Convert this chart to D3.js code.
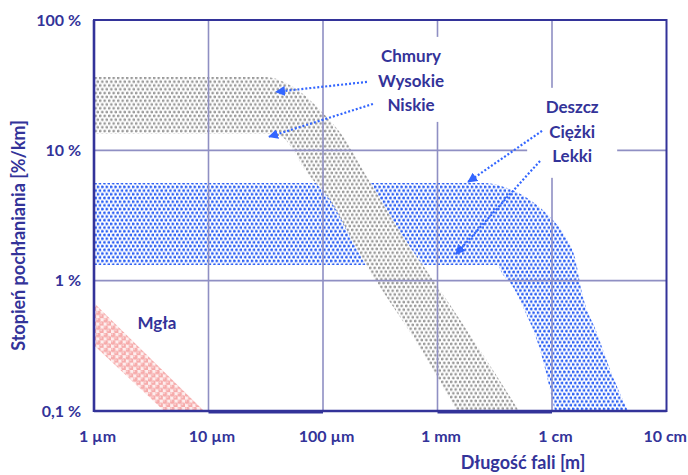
<!DOCTYPE html>
<html>
<head>
<meta charset="utf-8">
<script src="https://cdn.jsdelivr.net/npm/d3@7"></script>
<style>
  body { margin: 0; background: #fff; }
  text { font-family: Lato, "Open Sans", sans-serif; font-weight: bold; fill: #333399; }
</style>
</head>
<body>
<svg id="chart"></svg>
<script>
// wavelength in metres, attenuation in %/km
const xTicks = [1e-6, 1e-5, 1e-4, 1e-3, 1e-2, 1e-1];
const xTickLabels = ["1 µm", "10 µm", "100 µm", "1 mm", "1 cm", "10 cm"];
const yTicks = [100, 10, 1, 0.1];
const yTickLabels = ["100 %", "10 %", "1 %", "0,1 %"];

// band edges [wavelength, %]
const cloudsUpper = [[1e-6, 36.6], [3.1e-5, 36.6], [5.47e-5, 30.7], [8.18e-5, 23.1], [1.08e-4, 18.0],
  [1.5e-4, 12.7], [2.23e-4, 7.08], [4.43e-4, 2.58], [1.05e-3, 0.849], [2.35e-3, 0.294], [5.15e-3, 0.1]];
const cloudsLower = [[1e-6, 13.4], [3.1e-5, 13.4], [4.47e-5, 12.5], [5.47e-5, 10.1], [6.69e-5, 7.46],
  [1.15e-4, 4.16], [2.23e-4, 1.44], [6.11e-4, 0.37], [1.48e-3, 0.1]];
const rainUpper = [[1e-6, 5.62], [2.5e-3, 5.62], [4.05e-3, 5.15], [6.43e-3, 4.16], [9.6e-3, 3.08],
  [1.3e-2, 2.2], [1.59e-2, 1.49], [1.83e-2, 0.805], [2.47e-2, 0.397], [3.41e-2, 0.182], [4.61e-2, 0.1]];
const rainLower = [[1e-6, 1.32], [3.31e-3, 1.32], [3.73e-3, 1.11], [4.56e-3, 0.895], [5.58e-3, 0.628],
  [7.86e-3, 0.294], [1.06e-2, 0.1]];
const fogUpper = [[1e-6, 0.675], [9.14e-6, 0.1]];
const fogLower = [[1e-6, 0.32], [4.09e-6, 0.1]];

const cloudLabels = ["Chmury", "Wysokie", "Niskie"];
const rainLabels = ["Deszcz", "Ciężki", "Lekki"];
// arrows: [from, to]
const cloudArrows = [[[2.42e-4, 33.5], [3.89e-5, 28.1]], [[2.73e-4, 22.7], [3.38e-5, 12.7]]];
const rainArrows = [[[8.18e-3, 14.1], [1.85e-3, 5.72]], [[7.86e-3, 8.29], [1.45e-3, 1.6]]];

const width = 688, height = 475;
const svg = d3.select("#chart").attr("width", width).attr("height", height);
svg.append("rect").attr("width", width).attr("height", height).attr("fill", "#fff");

const x = d3.scaleLog().domain([1e-6, 1e-1]).range([94, 666.5]);
const y = d3.scaleLog().domain([0.1, 100]).range([411, 20]);
const x0 = x.range()[0], x1 = x.range()[1], yTop = y.range()[1], yBot = y.range()[0];

const defs = svg.append("defs");

// hexagonal dot lattice
function dots(id, w, h, r, color, bg) {
  const p = defs.append("pattern").attr("id", id).attr("patternUnits", "userSpaceOnUse")
    .attr("width", w).attr("height", h);
  p.append("rect").attr("width", w).attr("height", h).attr("fill", bg);
  [[w / 4, h / 4], [w * 3 / 4, h * 3 / 4]].forEach(c => {
    p.append("circle").attr("cx", c[0]).attr("cy", c[1]).attr("r", r).attr("fill", color);
  });
  return p;
}
dots("pGray", 4.5, 7.6, 1.4, "#999", "#fff");
dots("pBlue", 4.4, 7.4, 1.5, "#2c60f4", "#fff");
const pink = dots("pPink", 7.4, 7.4, 2.5, "#f6aaaa", "#fdeeee");
[[1.85, 1.85], [5.55, 5.55]].forEach(c => {
  pink.append("circle").attr("cx", c[0] - 0.7).attr("cy", c[1] - 0.7).attr("r", 0.9).attr("fill", "#fcd6d6");
});

defs.append("clipPath").attr("id", "plotClip").append("rect")
  .attr("x", x0).attr("y", yTop).attr("width", x1 - x0).attr("height", yBot - yTop);

const areaSmooth = d3.area().x(d => x(d[0])).y0(yBot).y1(d => y(d[1])).curve(d3.curveMonotoneX);
const areaStraight = d3.area().x(d => x(d[0])).y0(yBot).y1(d => y(d[1]));

function band(id, upper, lower, patternId, gen) {
  const m = defs.append("mask").attr("id", id).attr("maskUnits", "userSpaceOnUse")
    .attr("x", 0).attr("y", 0).attr("width", width).attr("height", height);
  m.append("rect").attr("width", width).attr("height", height).attr("fill", "#000");
  m.append("path").attr("d", gen(upper)).attr("fill", "#fff");
  m.append("path").attr("d", gen(lower)).attr("fill", "#000");
  svg.append("rect").attr("clip-path", "url(#plotClip)").attr("mask", "url(#" + id + ")")
    .attr("x", x0).attr("y", yTop).attr("width", x1 - x0).attr("height", yBot - yTop)
    .attr("fill", "url(#" + patternId + ")");
}
band("mFog", fogUpper, fogLower, "pPink", areaStraight);
band("mRain", rainUpper, rainLower, "pBlue", areaSmooth);
band("mClouds", cloudsUpper, cloudsLower, "pGray", areaSmooth);

// grid
const grid = svg.append("g").attr("stroke", "#8f8fc3").attr("stroke-width", 1.6);
grid.selectAll(".vg").data(xTicks.slice(1, -1)).enter().append("line")
  .attr("x1", d => x(d)).attr("x2", d => x(d)).attr("y1", yTop).attr("y2", yBot);
grid.selectAll(".hg").data(yTicks.slice(1, -1)).enter().append("line")
  .attr("x1", x0).attr("x2", x1).attr("y1", d => y(d)).attr("y2", d => y(d));

// white boxes behind the labels
function labelBlock(lines, anchor, boxW, boxTop, boxH) {
  const cx = x(anchor[0]), by = y(anchor[1]);
  svg.append("rect").attr("x", cx - boxW / 2).attr("y", by + boxTop).attr("width", boxW)
    .attr("height", boxH).attr("fill", "#fff");
  svg.append("g").selectAll("text").data(lines).enter().append("text")
    .attr("x", cx).attr("y", (d, i) => by + i * 24.8)
    .attr("text-anchor", "middle").attr("font-size", 17).text(d => d);
}
labelBlock(cloudLabels, [5.87e-4, 47.7], 84, -25, 85);
labelBlock(rainLabels, [1.5e-2, 19.4], 90, -25, 90);

svg.append("text").attr("x", x(3.55e-6)).attr("y", y(0.426))
  .attr("text-anchor", "middle").attr("font-size", 17).text("Mgła");

// arrows
defs.append("marker").attr("id", "arrow").attr("viewBox", "0 0 10 10").attr("refX", 9).attr("refY", 5)
  .attr("markerWidth", 10).attr("markerHeight", 10).attr("markerUnits", "userSpaceOnUse")
  .attr("orient", "auto")
  .append("path").attr("d", "M0,0L10,5L0,10Z").attr("fill", "#3366ff");
svg.append("g").selectAll("line").data(cloudArrows.concat(rainArrows)).enter().append("line")
  .attr("x1", d => x(d[0][0])).attr("y1", d => y(d[0][1]))
  .attr("x2", d => x(d[1][0])).attr("y2", d => y(d[1][1]))
  .attr("stroke", "#3366ff").attr("stroke-width", 2.2).attr("stroke-dasharray", "2,2")
  .attr("marker-end", "url(#arrow)");

// frame
const frame = svg.append("g").attr("stroke", "#333399").attr("fill", "none");
frame.append("rect").attr("x", x0).attr("y", yTop).attr("width", x1 - x0).attr("height", yBot - yTop)
  .attr("stroke-width", 2);
frame.append("line").attr("x1", x0).attr("x2", x0).attr("y1", yTop).attr("y2", yBot + 1).attr("stroke-width", 2.6);
frame.append("line").attr("x1", x0).attr("x2", x1).attr("y1", yBot).attr("y2", yBot).attr("stroke-width", 2.6);
[[1e-5, 1e-4], [1e-3, 1e-2]].forEach(s => {
  frame.append("line").attr("x1", x(s[0])).attr("x2", x(s[1])).attr("y1", yBot + 0.8).attr("y2", yBot + 0.8)
    .attr("stroke-width", 3.4);
});

// axes
const xAxis = svg.append("g").attr("transform", `translate(0,${yBot})`)
  .call(d3.axisBottom(x).tickValues(xTicks).tickFormat((d, i) => xTickLabels[i]).tickSize(0).tickPadding(20));
xAxis.select(".domain").remove();
xAxis.selectAll("text").attr("font-size", 16).attr("font-family", null).attr("fill", "#333399")
  .attr("dx", 3);
// last label would run past the right edge
xAxis.selectAll("text").filter((d, i) => i === xTicks.length - 1).attr("text-anchor", "end").attr("dx", 20);

const yAxis = svg.append("g").attr("transform", `translate(${x0},0)`)
  .call(d3.axisLeft(y).tickValues(yTicks).tickFormat((d, i) => yTickLabels[i]).tickSize(0).tickPadding(13));
yAxis.select(".domain").remove();
yAxis.selectAll("text").attr("font-size", 16).attr("font-family", null).attr("fill", "#333399");

svg.append("text").attr("x", 523).attr("y", 469).attr("text-anchor", "middle")
  .attr("font-size", 18).text("Długość fali [m]");
svg.append("text").attr("transform", `translate(25,${(yTop + yBot) / 2 + 20}) rotate(-90)`)
  .attr("text-anchor", "middle").attr("font-size", 18).text("Stopień pochłaniania [%/km]");
</script>
</body>
</html>
